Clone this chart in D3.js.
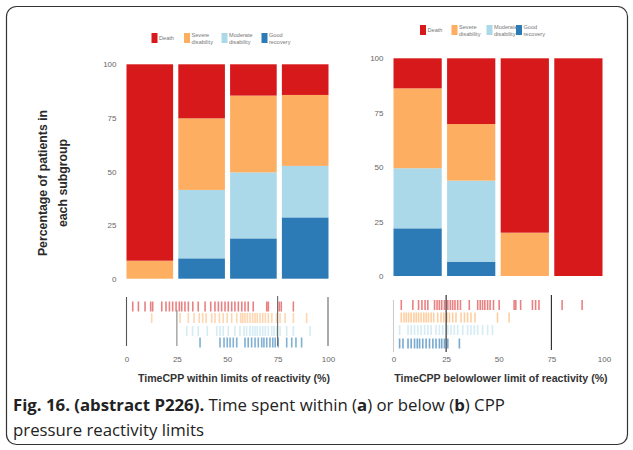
<!DOCTYPE html>
<html><head><meta charset="utf-8">
<script src="https://cdn.jsdelivr.net/npm/d3@7"></script>
<style>
html,body{margin:0;padding:0;background:#fff;}
svg{display:block;}
</style></head>
<body>
<script>
// ---- data ----
const bins = ["0-25", "25-50", "50-75", "75-100"];
const outcomes = ["Death", "Severe disability", "Moderate disability", "Good recovery"];
const legendLines = [["Death"], ["Severe", "disability"], ["Moderate", "disability"], ["Good", "recovery"]];
const outcomeColors = ["#d7191c", "#fdae61", "#abd9e9", "#2c7bb6"];
const yTicks = [0, 25, 50, 75, 100];
const xTicks = [0, 25, 50, 75, 100];

// panel a: % of patients per subgroup (time CPP within limits)
const aDeath    = [91.6, 25.2, 14.6, 14.3];
const aSevere   = [8.4, 33.4, 35.8, 33.1];
const aModerate = [0, 31.9, 30.8, 24.0];
const aGood     = [0, 9.5, 18.8, 28.6];
// panel b: time CPP below lower limit
const bDeath    = [13.8, 30.2, 80.1, 100];
const bSevere   = [36.7, 26.0, 19.9, 0];
const bModerate = [27.6, 37.2, 0, 0];
const bGood     = [21.9, 6.6, 0, 0];

// rug: individual patient values (%)
const aRugDeath = [3.1,5.9,9.2,12,13,17.5,19.6,21.3,22.9,24.6,26.2,27.4,29,30.7,32.9,35.6,39,41.8,43.9,45.6,47.2,48.9,50.5,52.2,53.8,55.5,57.2,58.8,60.4,62.9,69.6,70.4,75.8,76.8,82.8];
const aRugSevere = [12.5,26.6,30.7,33.5,36.1,37.8,39.5,42.3,43.9,46.1,48,50,52.2,54.7,56.7,57.7,58.8,60,61.3,62.6,63.8,64.9,66.3,67.6,68.9,70.4,72.1,74.5,76.2,78.7,82.8,89.4];
const aRugModerate = [29.9,32.8,35.6,40.1,44.8,46.4,48,50.5,53.8,56.3,58.3,59.6,61.3,62.6,63.8,64.9,66.3,67.6,68.9,70.4,72.1,73.2,74.5,76.2,79.5,82.8,91.1];
const aRugGood = [36.5,46.4,48.4,50,51.4,53,54.7,58.8,60.4,62.1,63.8,65.4,67.1,68.2,69.6,71.2,72.6,73.8,75.3,79.5,82,84.1,86.9];
const bRugDeath = [3.7,9.2,11.9,13.5,15,16.3,19.5,20.7,21.8,22.9,24.2,25.8,27,28.1,29.2,30.5,31.8,36,40,41.2,42.3,43.4,44.7,45.9,47.5,50.2,57.3,58.1,60.4,66,67.5,69.1,80.1,89.6];
const bRugSevere = [3.7,5,6.1,7.2,8.4,9.7,10.8,11.9,13.1,14.4,15.5,16.6,17.9,19.1,21,22.6,23.9,25.4,26.6,28.1,29.7,32.1,33.7,35.2,36.8,38.7,49.4,54.9];
const bRugModerate = [2.9,6.9,8.4,10,11.6,13.1,14.8,16.3,17.9,20.2,21.8,23.4,25.8,27.3,28.9,30.5,32.9,35.2,36.8,38.4,40,42.3,44.7,47];
const bRugGood = [2.9,4.5,6.9,8.4,10,11.3,12.4,13.9,15.5,17.1,18.7,20.2,21.8,22.9,24.2,25.8,31.3];

// reference lines on the rug strips
const aRugLines = [0, 25, 75, 100];
const bRugLines = [0, 25, 75];

const W = 633, H = 450;
const svg = d3.select("body").append("svg").attr("width", W).attr("height", H);

// frame
svg.append("rect").attr("x", 6.5).attr("y", 6.5).attr("width", 621).attr("height", 438)
  .attr("rx", 10).attr("fill", "none").attr("stroke", "#333").attr("stroke-width", 1.2);

const chartFont = "'Liberation Sans', Arial, sans-serif";

function panel(cfg) {
  const g = svg.append("g");
  const x = d3.scaleBand().domain(bins).range([cfg.x0, cfg.x1]).paddingInner(0.1).paddingOuter(0);
  const y = d3.scaleLinear().domain([0, 100]).range([cfg.yBottom, cfg.yTop]);
  const rows = bins.map((b, i) => ({bin: b, Death: cfg.death[i], "Severe disability": cfg.severe[i],
    "Moderate disability": cfg.moderate[i], "Good recovery": cfg.good[i]}));
  const stackKeys = outcomes.slice().reverse();
  const series = d3.stack().keys(stackKeys)(rows);
  g.selectAll("g.s").data(series).join("g")
    .attr("fill", d => outcomeColors[outcomes.indexOf(d.key)])
    .selectAll("rect").data(d => d).join("rect")
    .attr("x", d => x(d.data.bin)).attr("width", x.bandwidth())
    .attr("y", d => y(d[1])).attr("height", d => Math.max(0, y(d[0]) - y(d[1])));

  // y axis (labels only)
  const ya = g.append("g").attr("transform", `translate(${cfg.x0 - 10},0)`)
    .call(d3.axisLeft(y).tickValues(yTicks).tickSize(0).tickPadding(0));
  ya.select(".domain").remove();
  ya.selectAll("text").attr("font-family", chartFont).attr("font-size", 8).attr("fill", "#666");

  // legend
  const lg = g.append("g");
  cfg.legendX.forEach((lx, i) => {
    lg.append("rect").attr("x", lx).attr("y", cfg.legendY).attr("width", 6).attr("height", 10)
      .attr("fill", outcomeColors[i]);
    const t = lg.append("text").attr("font-family", chartFont).attr("font-size", 5.6).attr("fill", "#777");
    const lines = legendLines[i];
    lines.forEach((ln, j) => {
      t.append("tspan").attr("x", lx + 7.5)
        .attr("y", lines.length === 1 ? cfg.legendY + 7 : cfg.legendY + 3.5 + j * 7.5).text(ln);
    });
  });

  // rug
  const xr = d3.scaleLinear().domain([0, 100]).range([cfg.x0, cfg.x1r]);
  const rugData = [cfg.rDeath, cfg.rSevere, cfg.rModerate, cfg.rGood];
  rugData.forEach((vals, i) => {
    g.append("g").selectAll("line").data(vals).join("line")
      .attr("x1", d => xr(d)).attr("x2", d => xr(d))
      .attr("y1", cfg.rugY[i] - 5).attr("y2", cfg.rugY[i] + 5)
      .attr("stroke", outcomeColors[i]).attr("stroke-width", 1.6).attr("stroke-opacity", cfg.rugOpacity[i]);
  });
  g.append("g").selectAll("line").data(cfg.lines).join("line")
    .attr("x1", d => xr(d)).attr("x2", d => xr(d))
    .attr("y1", (d, i) => cfg.lineY[i][0]).attr("y2", (d, i) => cfg.lineY[i][1])
    .attr("stroke", (d, i) => cfg.lineColor[i]).attr("stroke-width", 1.1);

  const xa = g.append("g").attr("transform", `translate(0,${cfg.xLabelY})`)
    .call(d3.axisBottom(xr).tickValues(xTicks).tickSize(0).tickPadding(0));
  xa.select(".domain").remove();
  xa.selectAll("text").attr("font-family", chartFont).attr("font-size", 8).attr("fill", "#666");

  g.append("text").attr("x", cfg.titleX).attr("y", 382).attr("text-anchor", "middle")
    .attr("font-family", chartFont).attr("font-weight", "bold").attr("font-size", 10.6).attr("fill", "#333")
    .text(cfg.title);
}

panel({
  x0: 126.5, x1: 328.5, x1r: 328, yBottom: 278.7, yTop: 64.3,
  death: aDeath, severe: aSevere, moderate: aModerate, good: aGood,
  legendX: [151.5, 184, 221.5, 261.5], legendY: 33,
  rDeath: aRugDeath, rSevere: aRugSevere, rModerate: aRugModerate, rGood: aRugGood,
  rugY: [306.5, 318, 331, 342.5], rugOpacity: [0.55, 0.5, 0.5, 0.6],
  lines: aRugLines, lineY: [[297, 346], [310, 346], [296, 346], [297, 346]],
  lineColor: ["#555", "#888", "#666", "#666"],
  xLabelY: 356, titleX: 234, title: "TimeCPP within limits of reactivity (%)"
});
panel({
  x0: 393.5, x1: 602.5, x1r: 604, yBottom: 276, yTop: 58.3,
  death: bDeath, severe: bSevere, moderate: bModerate, good: bGood,
  legendX: [420, 451.5, 486.5, 516], legendY: 25,
  rDeath: bRugDeath, rSevere: bRugSevere, rModerate: bRugModerate, rGood: bRugGood,
  rugY: [305, 317.5, 330, 343.5], rugOpacity: [0.55, 0.6, 0.5, 0.65],
  lines: bRugLines, lineY: [[300, 352], [295, 352], [295, 350]],
  lineColor: ["#ccc", "#222", "#222"],
  xLabelY: 356, titleX: 501, title: "TimeCPP belowlower limit of reactivity (%)"
});

// y axis title (panel a)
const yt = svg.append("text")
  .attr("font-family", chartFont).attr("font-weight", "bold").attr("font-size", 12.3).attr("fill", "#2a2a2a")
  .attr("text-anchor", "middle").attr("transform", "rotate(-90)");
yt.append("tspan").attr("x", -183).attr("y", 47).text("Percentage of patients in");
yt.append("tspan").attr("x", -183).attr("y", 67).text("each subgroup");

// caption
const cap = svg.append("g").attr("font-family", "'Open Sans', 'Noto Sans', sans-serif").attr("font-size", 16.8).attr("fill", "#222");
const l1 = cap.append("text").attr("x", 13).attr("y", 411);
l1.append("tspan").attr("font-weight", "bold").text("Fig. 16. (abstract P226).");
l1.append("tspan").text(" Time spent within (");
l1.append("tspan").attr("font-weight", "bold").text("a");
l1.append("tspan").text(") or below (");
l1.append("tspan").attr("font-weight", "bold").text("b");
l1.append("tspan").text(") CPP");
cap.append("text").attr("x", 13).attr("y", 436).text("pressure reactivity limits");
</script>
</body></html>
